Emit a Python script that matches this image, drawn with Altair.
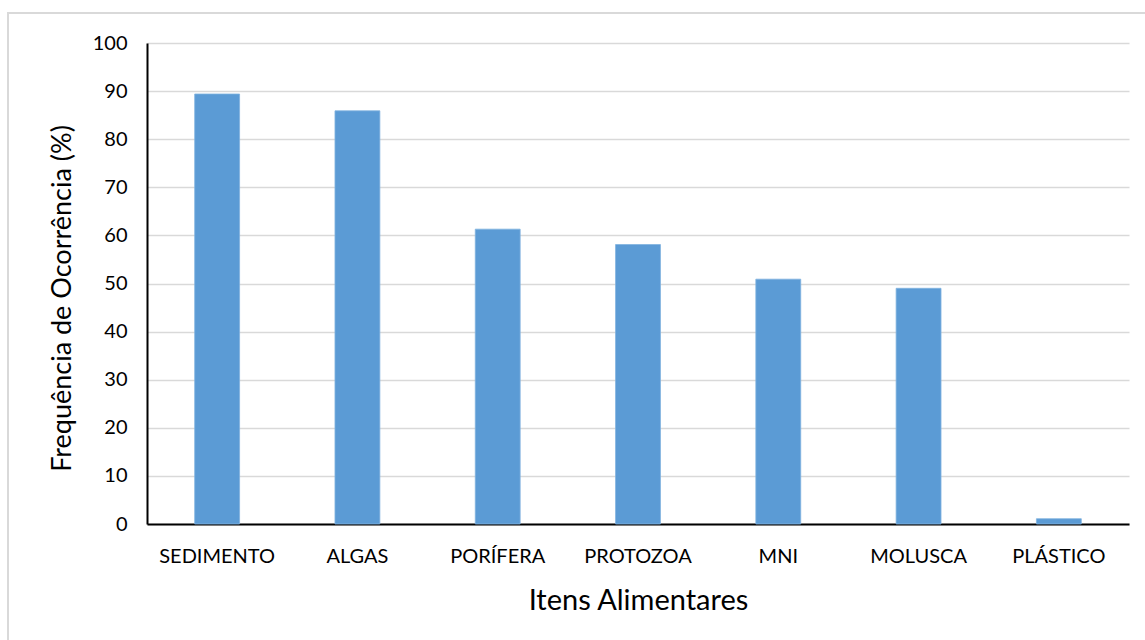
import altair as alt
import pandas as pd

categories = ["SEDIMENTO", "ALGAS", "PORÍFERA", "PROTOZOA", "MNI", "MOLUSCA", "PLÁSTICO"]
values = [89.4, 85.9, 61.3, 58.1, 50.9, 49.0, 1.1]
y_ticks = [0, 10, 20, 30, 40, 50, 60, 70, 80, 90, 100]

df = pd.DataFrame({"item": categories, "freq": values})

FONT = "Lato"

bars = alt.Chart(df).mark_bar(color="#5b9bd5", stroke="#80b2e0", strokeWidth=0.8).encode(
    x=alt.X(
        "item:N",
        sort=categories,
        scale=alt.Scale(paddingInner=0.68, paddingOuter=0.34),
        axis=alt.Axis(
            title="Itens Alimentares",
            labelAngle=0,
            labelFontSize=20,
            labelColor="#000000",
            labelFont=FONT,
            labelPadding=22,
            ticks=False,
            domainColor="#000000",
            domainWidth=2,
            titleFontSize=29,
            titleFont=FONT,
            titleFontWeight="normal",
            titleColor="#000000",
            titleY=76,
            titleBaseline="middle",
        ),
    ),
    y=alt.Y(
        "freq:Q",
        scale=alt.Scale(domain=[0, 100], nice=False),
        axis=alt.Axis(
            title="Frequência de Ocorrência (%)",
            values=y_ticks,
            labelFontSize=20,
            labelColor="#000000",
            labelFont=FONT,
            labelPadding=20,
            ticks=False,
            domainColor="#000000",
            domainWidth=2,
            gridColor="#d9d9d9",
            gridWidth=1.5,
            titleFontSize=27,
            titleFont=FONT,
            titleFontWeight="normal",
            titleColor="#000000",
            titleX=-85,
            titleY=255,
            titleBaseline="middle",
        ),
    ),
)

border = alt.Chart(pd.DataFrame({"a": [0]})).mark_rect(
    filled=False, stroke="#d9d9d9", strokeWidth=2, clip=False
).encode(
    x=alt.value(-139),
    x2=alt.value(1010),
    y=alt.value(-30),
    y2=alt.value(620),
)

chart = alt.layer(border, bars).properties(
    width=982,
    height=481,
    autosize=alt.AutoSizeParams(type="none"),
    padding={"left": 147, "top": 43, "right": 16, "bottom": 116},
    background="#ffffff",
).configure_view(stroke=None)

chart.save("out.html", embed_options={"renderer": "svg", "actions": False})
